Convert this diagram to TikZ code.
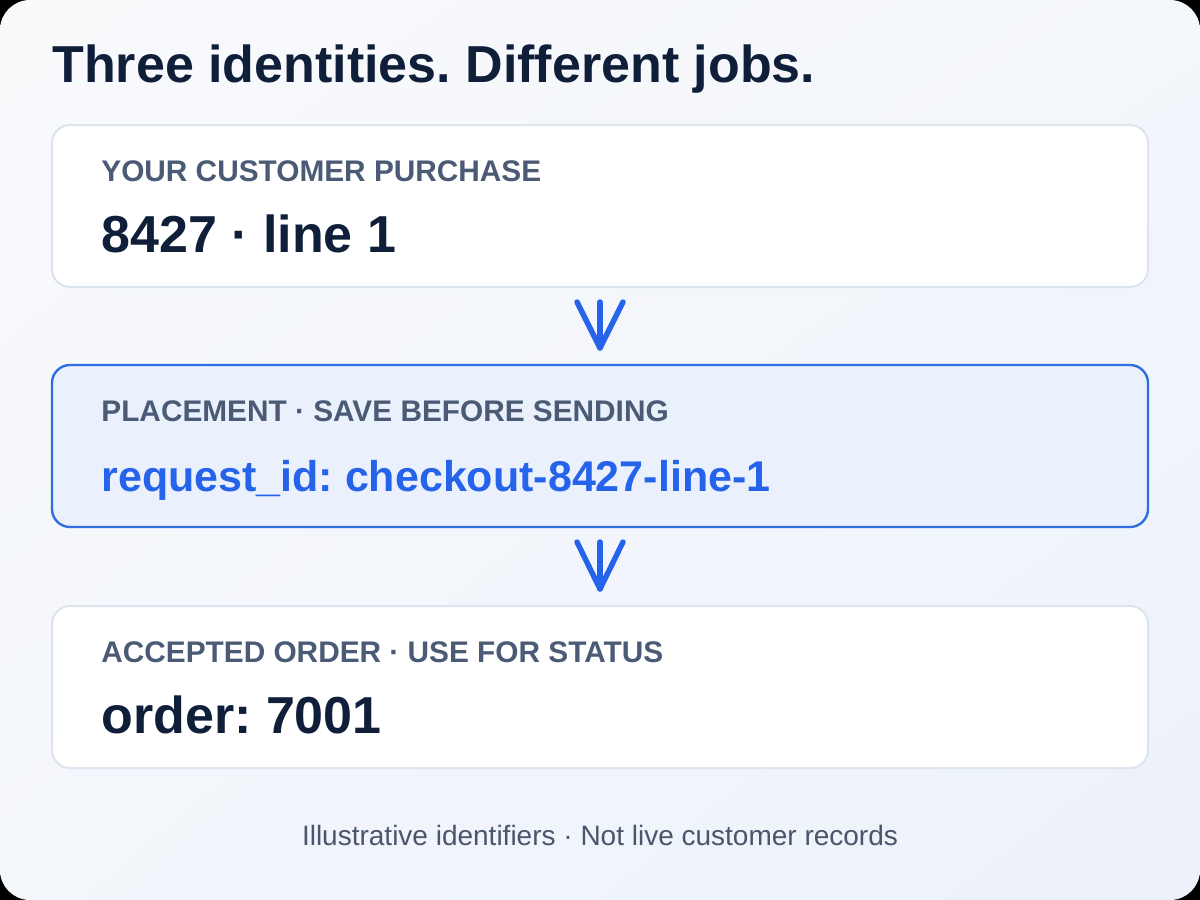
\documentclass[tikz,border=0pt]{standalone}
\usepackage{fontspec}
\setmainfont{Liberation Sans}
\usetikzlibrary{calc,shadings}
\frenchspacing
\definecolor{navy}{HTML}{0F1F3A}
\definecolor{labelgray}{HTML}{4B5B75}
\definecolor{footgray}{HTML}{4A566B}
\definecolor{cardline}{HTML}{DCE4EE}
\definecolor{accent}{HTML}{2563EB}
\definecolor{accentfill}{HTML}{EAF1FD}
\definecolor{accentline}{HTML}{2F6FE0}
\definecolor{bgA}{HTML}{F9FAFC}
\definecolor{bgB}{HTML}{ECF1FA}
\definecolor{bgC}{HTML}{F3F6FB}
\tikzset{
  card/.style={draw=cardline, line width=1pt, fill=white, rounded corners=9pt,
    minimum width=548pt, minimum height=81pt, inner sep=0pt, outer sep=0pt},
  hicard/.style={card, draw=accentline, line width=1.2pt, fill=accentfill},
  titletext/.style={anchor=base west, inner sep=0pt, text=navy,
    font=\fontsize{26}{30}\selectfont\bfseries},
  labeltext/.style={anchor=base west, inner sep=0pt, text=labelgray,
    font=\fontsize{14.9}{17}\selectfont\bfseries},
  valuetext/.style={anchor=base west, inner sep=0pt, text=navy,
    font=\fontsize{26}{30}\selectfont\bfseries},
  reqtext/.style={anchor=base west, inner sep=0pt, text=accent,
    font=\fontsize{21.5}{25}\selectfont\bfseries},
  foottext/.style={anchor=base, inner sep=0pt, text=footgray,
    font=\fontsize{14}{16}\selectfont},
  conn/.style={draw=accent, line width=2.7pt, line cap=round, line join=round}
}
\begin{document}
\begin{tikzpicture}[x=0.5pt,y=-0.5pt]
\useasboundingbox (0,0) rectangle (1200,900);
\fill[black] (0,0) rectangle (1200,900);
\shade[rounded corners=15pt, upper left=bgA, upper right=bgC, lower left=bgC, lower right=bgB]
  (0,0) rectangle (1200,900);

\node[titletext] (title) at (52,82) {Three identities. Different jobs.};

\node[card] (b1) at (600,206) {};
\node[hicard] (b2) at (600,446) {};
\node[card] (b3) at (600,687) {};

\node[labeltext] (l1) at (101,181) {YOUR CUSTOMER PURCHASE};
\node[valuetext] (v1) at (101,252) {8427 · line 1};

\node[labeltext] (l2) at (101,421) {PLACEMENT · SAVE BEFORE SENDING};
\node[reqtext] (v2) at (101,491) {request\_id: checkout-8427-line-1};

\node[labeltext] (l3) at (101,662) {ACCEPTED ORDER · USE FOR STATUS};
\node[valuetext] (v3) at (101,733) {order: 7001};

\node[foottext] (foot) at (600,845) {Illustrative identifiers · Not live customer records};

% connectors
\draw[conn] ([yshift=-7.5pt]b1.south) -- ([yshift=8.5pt]b2.north);
\draw[conn] ([xshift=-11.5pt,yshift=-7.5pt]b1.south) -- ([yshift=8.5pt]b2.north)
  -- ([xshift=11.5pt,yshift=-7.5pt]b1.south);
\draw[conn] ([yshift=-7.5pt]b2.south) -- ([yshift=8.5pt]b3.north);
\draw[conn] ([xshift=-11.5pt,yshift=-7.5pt]b2.south) -- ([yshift=8.5pt]b3.north)
  -- ([xshift=11.5pt,yshift=-7.5pt]b2.south);
\end{tikzpicture}
\end{document}
